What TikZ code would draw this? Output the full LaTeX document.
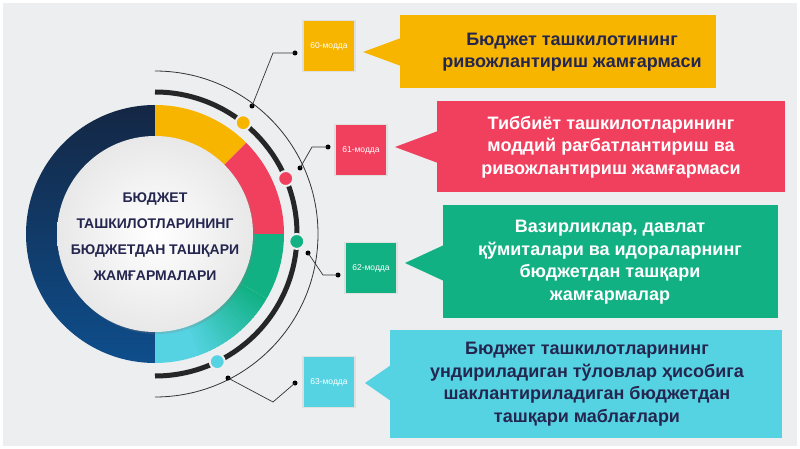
\documentclass[tikz,border=0pt]{standalone}
\usepackage{fontspec}
\setmainfont{Liberation Sans}
\usetikzlibrary{calc,shadows}
\definecolor{bg}{HTML}{EDEEF0}
\definecolor{cy}{HTML}{F7B500}
\definecolor{cr}{HTML}{F0405E}
\definecolor{cg}{HTML}{12B184}
\definecolor{cc}{HTML}{55D3E2}
\definecolor{navy}{HTML}{24264F}
\definecolor{nv1}{HTML}{142744}
\definecolor{nv2}{HTML}{0E4E8C}
\begin{document}
\begin{tikzpicture}[x=1pt,y=-1pt,
  lbl/.style={minimum width=52pt,minimum height=51pt,inner sep=0pt,draw=gray!25,line width=1.5pt,text=white,font=\fontsize{8.5}{10}\selectfont},
  call/.style={inner sep=0pt,align=center,font=\bfseries\fontsize{18}{22.5}\selectfont},
  bd/.style={circle,fill=black,inner sep=0pt,minimum size=5pt},
  cd/.style={circle,inner sep=0pt,minimum size=15pt,draw=bg,line width=2pt},
  ln/.style={draw=black!80,line width=0.7pt}]
\fill[bg] (0,0) rectangle (800,449);
\draw[white,line width=3pt] (1.5,1.5) rectangle (798.5,447.5);
\coordinate (c) at (155,234);
% ring segments
\newcommand{\seg}[3]{\path[#3] ($(c)+(#1:129)$) arc[start angle=#1,end angle=#2,radius=129] -- ($(c)+(#2:97)$) arc[start angle=#2,end angle=#1,radius=97] -- cycle;}
\seg{90}{270}{top color=nv1,bottom color=nv2}
\seg{-90}{-45}{fill=cy}
\seg{-45}{0}{fill=cr}
\seg{0}{30}{fill=cg}
\foreach \a in {30,32,...,70}{
  \pgfmathtruncatemacro{\p}{100-(\a-30)*2.5}
  \pgfmathsetmacro{\b}{\a+2.6}
  \seg{\a}{\b}{fill=cg!\p!cc}}
\seg{72}{90}{fill=cc}
% inner circle
\node[circle,minimum size=196pt,inner sep=0pt,inner color=white,outer color=gray!18,drop shadow={opacity=0.25,shadow xshift=2pt,shadow yshift=-2pt}] (core) at (c) {};
\node[align=center,text=navy,font=\bfseries\fontsize{14}{26}\selectfont] (title) at (155,237) {БЮДЖЕТ\\ТАШКИЛОТЛАРИНИНГ\\БЮДЖЕТДАН ТАШҚАРИ\\ЖАМҒАРМАЛАРИ};
% arcs
\draw[line width=5pt,black!85] ($(c)+(-90:142)$) arc[start angle=-90,end angle=90,radius=142];
\draw[line width=0.8pt,black!80] ($(c)+(-90:163)$) arc[start angle=-90,end angle=90,radius=163];
\node[cd,fill=cy] (d1) at ($(c)+(-51.6:142)$) {};
\node[cd,fill=cr] (d2) at ($(c)+(-23:142)$) {};
\node[cd,fill=cg] (d3) at ($(c)+(3:142)$) {};
\node[cd,fill=cc] (d4) at ($(c)+(64:142)$) {};
% label boxes
\node[lbl,fill=cy] (l1) at (329,46) {60-модда};
\node[lbl,fill=cr] (l2) at (361,150) {61-модда};
\node[lbl,fill=cg] (l3) at (371,268) {62-модда};
\node[lbl,fill=cc] (l4) at (329,382) {63-модда};
% connectors
\node[bd] (a1) at (252,106) {}; \coordinate (k1) at (273,53); \node[bd] (e1) at (295,53) {};
\node[bd] (a2) at (300,168) {}; \coordinate (k2) at (312,147); \node[bd] (e2) at (328,147) {};
\node[bd] (a3) at (308,253) {}; \coordinate (k3) at (323,275); \node[bd] (e3) at (338,275) {};
\node[bd] (a4) at (228,378) {}; \coordinate (k4) at (273,402); \node[bd] (e4) at (295,383) {};
\foreach \i in {1,...,4}{\draw[ln] (a\i.center) -- (k\i) -- (e\i.center);}
% callouts
\fill[cy] (400,15) rectangle (716,88); \fill[cy] (363,52) -- (401,38) -- (401,66) -- cycle;
\node[call,text=navy] (t1) at (572,52) {Бюджет ташкилотининг\\ривожлантириш жамғармаси};
\fill[cr] (437,101) rectangle (785,192); \fill[cr] (395,147) -- (438,131) -- (438,163) -- cycle;
\node[call,text=white] (t2) at (611,147) {Тиббиёт ташкилотларининг\\моддий рағбатлантириш ва\\ривожлантириш жамғармаси};
\fill[cg] (443,205) rectangle (778,318); \fill[cg] (405,263) -- (444,245) -- (444,281) -- cycle;
\node[call,text=white] (t3) at (610,262) {Вазирликлар, давлат\\қўмиталари ва идораларнинг\\бюджетдан ташқари\\жамғармалар};
\fill[cc] (390,330) rectangle (782,438); \fill[cc] (365,383) -- (391,365) -- (391,401) -- cycle;
\node[call,text=navy] (t4) at (587,384) {Бюджет ташкилотларининг\\ундириладиган тўловлар ҳисобига\\шаклантириладиган бюджетдан\\ташқари маблағлари};
\end{tikzpicture}
\end{document}
